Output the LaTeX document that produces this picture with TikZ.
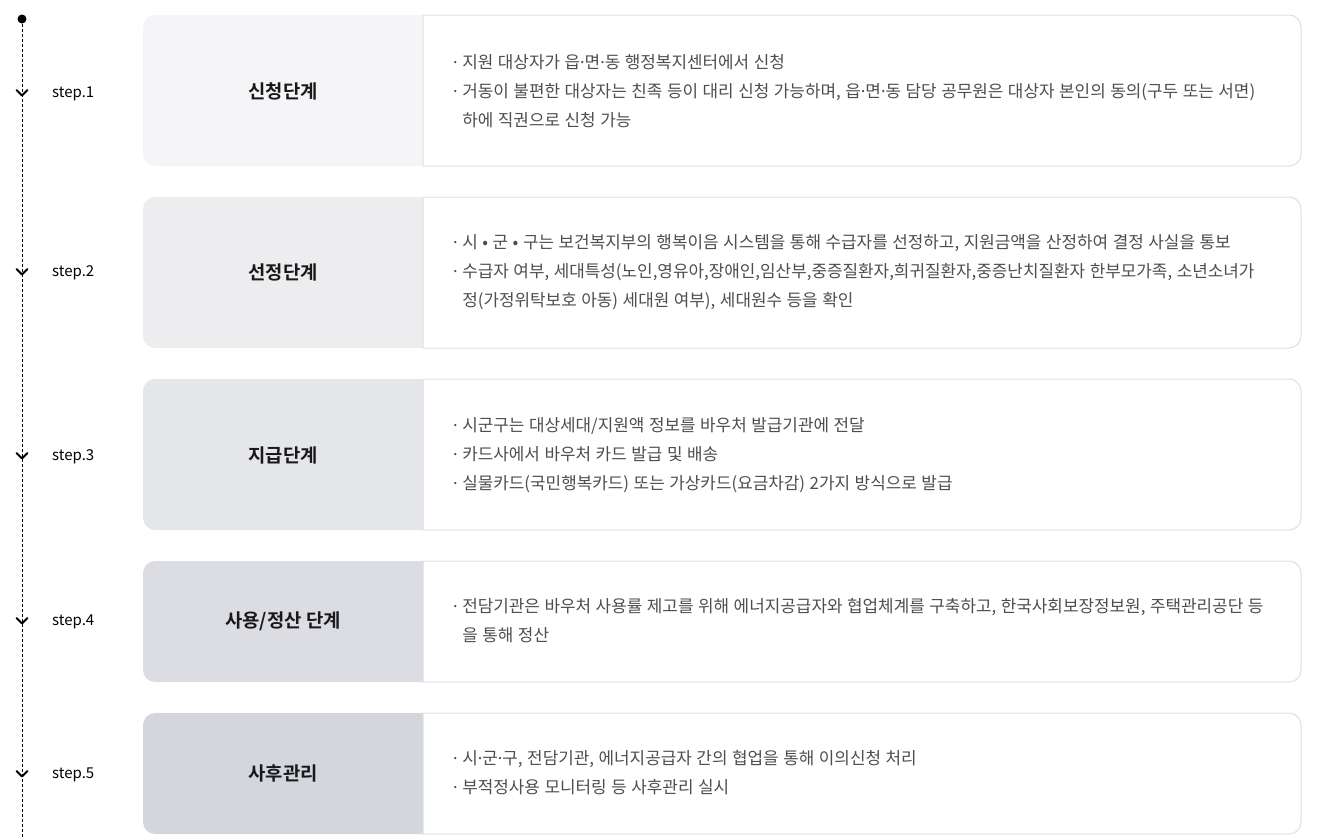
\documentclass[tikz,border=0pt]{standalone}
\usepackage{fontspec}
\setmainfont{Noto Sans CJK KR}[BoldFont={Noto Sans CJK KR Bold}]
\newfontfamily\bodyf{Noto Sans CJK KR}[WordSpace=1.2]
\newfontfamily\latinf{Noto Sans}
\usepackage{tikz}
\usetikzlibrary{calc}
\usetikzlibrary{positioning}

\definecolor{boxline}{HTML}{DEDFE3}
\definecolor{bodytext}{HTML}{4E4E4E}
\definecolor{stepA}{HTML}{F5F5F7}
\definecolor{stepB}{HTML}{EDEDF0}
\definecolor{stepC}{HTML}{E5E6EA}
\definecolor{stepD}{HTML}{DCDDE2}
\definecolor{stepE}{HTML}{D3D6DD}

\tikzset{
  head/.style={font=\fontsize{18.8}{22}\selectfont\bfseries, text=black!90, inner sep=0pt},
  steplabel/.style={anchor=base west, font=\fontsize{15}{17}\selectfont, inner sep=0pt},
  body/.style={anchor=west, align=left, text=bodytext, font=\bodyf\fontsize{16.9}{29}\selectfont, inner sep=0pt},
  chev/.style={line width=2pt, line cap=round, line join=round},
}
\newcommand{\md}{{\latinf ·}}
\newcommand{\bl}{{\latinf ·} }
\newcommand{\ind}{\hphantom{\bl}}

\begin{document}
\begin{tikzpicture}[x=1pt, y=-1pt]
      \useasboundingbox (0,0) rectangle (1329,839);
      % boxes
      \foreach \top/\hgt/\col in {15/151/stepA, 197/151/stepB, 379/151/stepC, 561/121/stepD, 713/121/stepE} {
        \fill[\col] (423,\top) [rounded corners=12pt] -- (143,\top) -- (143,\top+\hgt) [sharp corners] -- (423,\top+\hgt) -- cycle;
        \draw[boxline, fill=white, line width=1pt] (423,\top) [rounded corners=12pt] -- (1301,\top) -- (1301,\top+\hgt) [sharp corners] -- (423,\top+\hgt) -- cycle;
      }
      % timeline
      \coordinate (top) at (22,19);
      \coordinate (bot) at (22,839);
      \draw[line width=1pt, dash pattern=on 3pt off 2pt] (top) -- (bot);
      \fill (top) circle (4.5pt);
      \foreach \n/\y in {1/92, 2/271, 3/455, 4/620, 5/773} {
        \coordinate (c\n) at (22,\y);
        \draw[chev] ($(c\n)+(-5.5,-2)$) -- ($(c\n)+(0,3.5)$) -- ($(c\n)+(5.5,-2)$);
        \node[steplabel] (s\n) at (52,\y+5) {step.\n};
      }

      \node[head] (h1) at (283,91) {신청단계};
      \node[body] (b1) at (453,91) {\bl 지원 대상자가 읍\md 면\md 동 행정복지센터에서 신청\\
        \bl 거동이 불편한 대상자는 친족 등이 대리 신청 가능하며, 읍\md 면\md 동 담당 공무원은 대상자 본인의 동의(구두 또는 서면)\\
        \ind 하에 직권으로 신청 가능};

      \node[head] (h2) at (283,272) {선정단계};
      \node[body] (b2) at (453,272) {\bl 시 • 군 • 구는 보건복지부의 행복이음 시스템을 통해 수급자를 선정하고, 지원금액을 산정하여 결정 사실을 통보\\
        \bl 수급자 여부, 세대특성(노인,영유아,장애인,임산부,중증질환자,희귀질환자,중증난치질환자 한부모가족, 소년소녀가\\
        \ind 정(가정위탁보호 아동) 세대원 여부), 세대원수 등을 확인};

      \node[head] (h3) at (283,455) {지급단계};
      \node[body] (b3) at (453,455) {\bl 시군구는 대상세대/지원액 정보를 바우처 발급기관에 전달\\
        \bl 카드사에서 바우처 카드 발급 및 배송\\
        \bl 실물카드(국민행복카드) 또는 가상카드(요금차감) 2가지 방식으로 발급};

      \node[head] (h4) at (283,621) {사용/정산 단계};
      \node[body] (b4) at (453,621) {\bl 전담기관은 바우처 사용률 제고를 위해 에너지공급자와 협업체계를 구축하고, 한국사회보장정보원, 주택관리공단 등\\
        \ind 을 통해 정산};

      \node[head] (h5) at (283,773) {사후관리};
      \node[body] (b5) at (453,773) {\bl 시\md 군\md 구, 전담기관, 에너지공급자 간의 협업을 통해 이의신청 처리\\
        \bl 부적정사용 모니터링 등 사후관리 실시};
  \end{tikzpicture}
\end{document}
